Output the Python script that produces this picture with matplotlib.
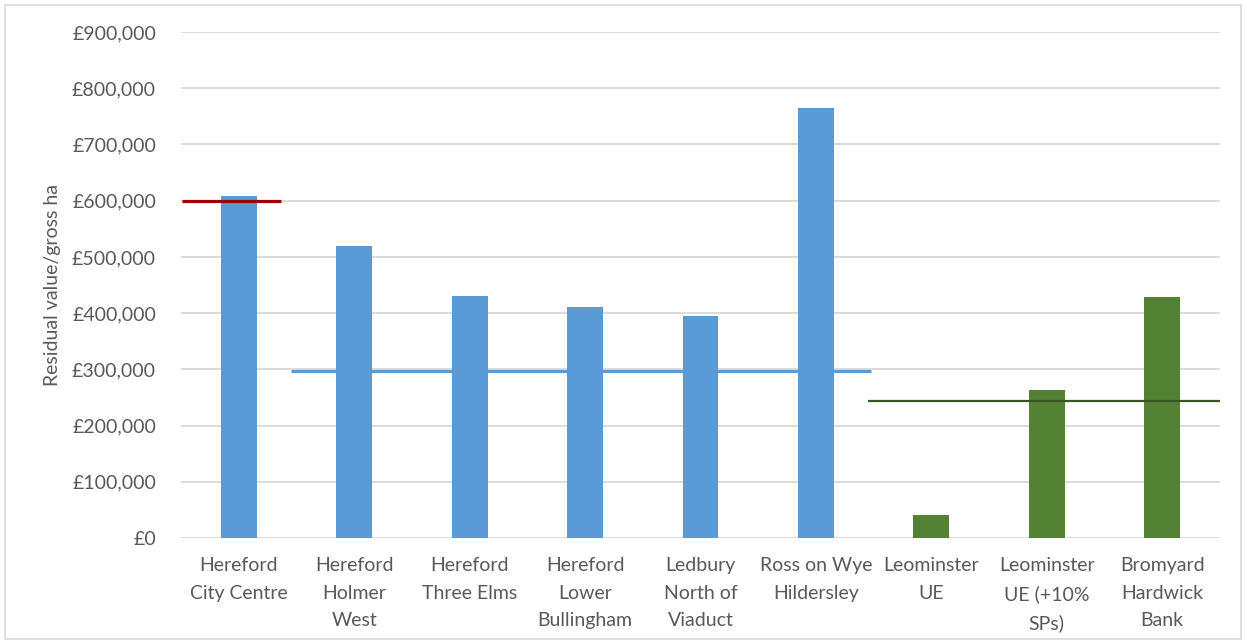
import matplotlib.pyplot as plt
from matplotlib.patches import Rectangle
from matplotlib.ticker import FuncFormatter

# categories and values
sites = ["Hereford\nCity Centre", "Hereford\nHolmer\nWest", "Hereford\nThree Elms",
         "Hereford\nLower\nBullingham", "Ledbury\nNorth of\nViaduct", "Ross on Wye\nHildersley",
         "Leominster\nUE", "Leominster\nUE (+10%\nSPs)", "Bromyard\nHardwick\nBank"]
residual = [608000, 520000, 431000, 411000, 395000, 765000, 41000, 263000, 429000]
bar_colors = ["#5b9bd5"] * 6 + ["#548235"] * 3

# benchmark lines: (value, start category, end category)
bench_city = (600000, 0, 0)
bench_hereford = (297000, 1, 5)
bench_market = (244000, 6, 8)

plt.rcParams['font.family'] = ['Lato', 'DejaVu Sans']

fig = plt.figure(figsize=(12.47, 6.43), dpi=100)
ax = fig.add_axes([181 / 1247, 1 - 538 / 643, (1220 - 181) / 1247, (538 - 32) / 643])

x = list(range(len(sites)))
ax.bar(x, residual, width=0.31, color=bar_colors, zorder=2)

ax.hlines(bench_city[0], bench_city[1] - 0.49, bench_city[2] + 0.37, color="#9b0000", linewidth=2.3, zorder=3)
ax.hlines(bench_hereford[0], bench_hereford[1] - 0.55, bench_hereford[2] + 0.48, color="#5b9bd5", linewidth=2.3, zorder=3)
ax.hlines(bench_market[0], bench_market[1] - 0.55, bench_market[2] + 0.5, color="#375623", linewidth=1.6, zorder=3)

ax.set_xlim(-0.5, 8.5)
ax.set_ylim(0, 900000)
ax.set_yticks(range(0, 900001, 100000))
ax.yaxis.set_major_formatter(FuncFormatter(lambda v, p: "£0" if v == 0 else "£{:,.0f}".format(v)))
ax.set_xticks(x)
ax.set_xticklabels(sites)
for lbl in ax.get_xticklabels():
    lbl.set_linespacing(1.72)
ax.grid(axis='y', color="#d9d9d9", linewidth=1.3, zorder=0)
for s in ax.spines.values():
    s.set_visible(False)
ax.tick_params(axis='y', length=0, pad=18, labelsize=14, labelcolor="#595959")
ax.tick_params(axis='x', length=0, pad=14, labelsize=14, labelcolor="#595959")
ax.set_ylabel("Residual value/gross ha", fontsize=14, color="#595959")
ax.yaxis.set_label_coords(-(181 - 61) / 1039, 0.5)

# outer chart border
fig.patches.append(Rectangle((5 / 1247, 4 / 643), 1236 / 1247, 634 / 643, transform=fig.transFigure,
                             fill=False, edgecolor="#d9d9d9", linewidth=1.2))

fig.savefig("out.png", dpi=100)
